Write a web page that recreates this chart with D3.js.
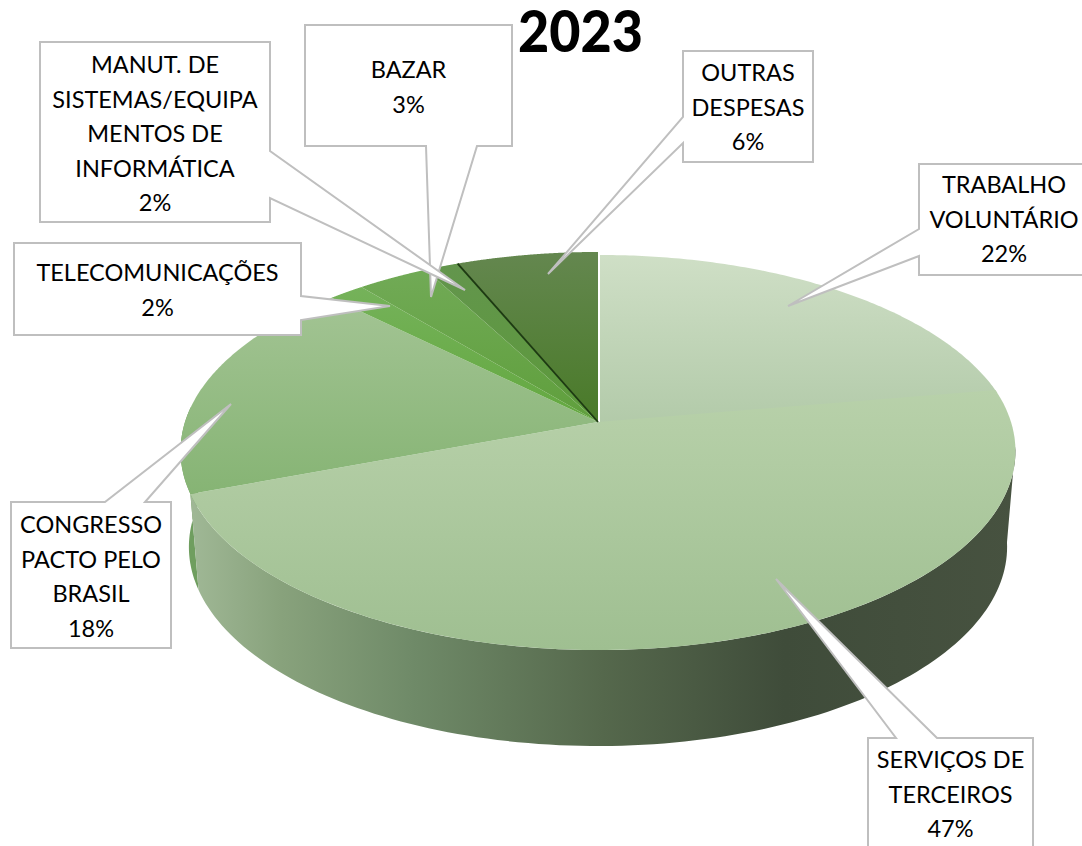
<!DOCTYPE html>
<html><head><meta charset="utf-8">
<script src="https://cdn.jsdelivr.net/npm/d3@7"></script>
<style>html,body{margin:0;padding:0;background:#fff;overflow:hidden}svg{display:block}text{font-family:Lato,sans-serif}</style>
</head><body><svg id="c" width="1082" height="846"></svg>
<script>
const title = "2023";
const categories = ["TRABALHO VOLUNTÁRIO","SERVIÇOS DE TERCEIROS","CONGRESSO PACTO PELO BRASIL","TELECOMUNICAÇÕES","BAZAR","MANUT. DE SISTEMAS/EQUIPAMENTOS DE INFORMÁTICA","OUTRAS DESPESAS"];
const values = [22.3,47,18.1,1.6,3.2,1.5,6.3];
const labelLines = [["TRABALHO","VOLUNTÁRIO"],["SERVIÇOS DE","TERCEIROS"],["CONGRESSO","PACTO PELO","BRASIL"],["TELECOMUNICAÇÕES"],["BAZAR"],["MANUT. DE","SISTEMAS/EQUIPA","MENTOS DE","INFORMÁTICA"],["OUTRAS","DESPESAS"]];

// layout only
const faceStops = [["#cfdfc6","#b2caa9"],["#b8d1aa","#9fbf91"],["#a3c494","#86b474"],["#75b25a","#63a83f"],["#71aa56","#5f9f3c"],["#63954d","#5c9a3a"],["#64874f","#497a28"]];
const callouts = [
 {box:[919,164,1090,275],notch:[[919,256],[788,306],[919,229]],side:"l",textY:185},
 {box:[868,738,1033,880],notch:[[896,738],[776,579],[937,738]],side:"t",textY:760},
 {box:[11,502,171,648],notch:[[105,502],[231,404],[145,502]],side:"t",textY:525},
 {box:[14,243,301,335],notch:[[301,320],[390,306],[301,296]],side:"r",textY:273},
 {box:[305,25,512,146],notch:[[426,146],[431,297],[477,146]],side:"b",textY:70},
 {box:[40,42,270,222],notch:[[270,198],[465,290],[270,151]],side:"r",textY:65},
 {box:[683,51,813,162],notch:[[683,143],[548,274],[683,117]],side:"l",textY:73}
];
const svg = d3.select("#c"), defs = svg.append("defs");
const cx=598, cy=422, persp=-0.1457;
const sx=d3.scaleLinear().domain([-1,1]).range([cx-413,cx+413]);
const sy=d3.scaleLinear().domain([-1,1]).range([cy-194.8,cy+194.8]);
const depth=96, shrink=0.98;
function rim(a){const u=Math.sin(a),v=-Math.cos(a),d=1+persp*v;return [sx(u/d),sy(v/d)];}
function rimLow(a){const p=rim(a);return [cx+(p[0]-cx)*shrink,p[1]+depth];}
const samples=(a,b)=>d3.range(0,121).map(i=>a+(b-a)*i/120);
const line=d3.line();
const arcs=d3.pie().sort(null).value(d=>d)(values);
const deg=Math.PI/180;

// walls
const wallG=defs.append("linearGradient").attr("id","wall").attr("gradientUnits","userSpaceOnUse").attr("x1",190).attr("x2",1016).attr("y1",0).attr("y2",0);
[[0,"#a0b896"],[.11,"#88a27c"],[.27,"#6f8a68"],[.5,"#55684c"],[.72,"#3f4c3a"],[1,"#475240"]].forEach(s=>wallG.append("stop").attr("offset",s[0]).attr("stop-color",s[1]));
const wall=(a,b,fill)=>{const A=samples(a,b);svg.append("path").attr("d",line(A.map(rim).concat(A.slice().reverse().map(rimLow)))+"Z").attr("fill",fill);};
wall(arcs[2].startAngle,arcs[2].startAngle+25*deg,"#6f9e5f");
wall(97*deg,arcs[1].endAngle,"url(#wall)");

// top faces
arcs.forEach((d,i)=>{
 const id="f"+i, g=defs.append("linearGradient").attr("id",id).attr("x1",0).attr("x2",0).attr("y1",0).attr("y2",1);
 g.append("stop").attr("offset",0).attr("stop-color",faceStops[i][0]);
 g.append("stop").attr("offset",1).attr("stop-color",faceStops[i][1]);
 svg.append("path").attr("d",line([[cx,cy]].concat(samples(d.startAngle,d.endAngle).map(rim)))+"Z").attr("fill",`url(#${id})`)
   .attr("transform",i===0?"translate(2,3)":null);
});
// separators
svg.append("path").attr("d",line([rim(arcs[6].startAngle),[cx,cy]])).attr("stroke","#1d3a12").attr("stroke-width",1.8).attr("fill","none");

// title
svg.append("text").attr("x",580.5).attr("y",52).attr("text-anchor","middle").attr("font-size",58).attr("font-weight",900).attr("textLength",125).attr("lengthAdjust","spacingAndGlyphs").attr("fill","#000").text(title);

// callouts
function calloutPath(c){
 const [l,t,r,b]=c.box,n=c.notch;
 let pts;
 if(c.side==="t")pts=[[l,t],...n,[r,t],[r,b],[l,b]];
 if(c.side==="b")pts=[[l,t],[r,t],[r,b],...n.slice().reverse(),[l,b]];
 if(c.side==="r")pts=[[l,t],[r,t],...n.slice().reverse(),[r,b],[l,b]];
 if(c.side==="l")pts=[[l,t],[r,t],[r,b],[l,b],...n];
 return line(pts)+"Z";
}
const fmt=d3.format(".0f");
callouts.forEach((c,i)=>{
 svg.append("path").attr("d",calloutPath(c)).attr("fill","#fff").attr("stroke","#bfbfbf").attr("stroke-width",2);
 const xm=i===0?1004:(c.box[0]+c.box[2])/2;
 labelLines[i].concat(fmt(values[i])+"%").forEach((s,j)=>{
  svg.append("text").attr("x",xm).attr("y",c.textY+j*34.6+8).attr("text-anchor","middle").attr("font-size",23.5).attr("fill","#000").text(s);
 });
});
</script></body></html>
